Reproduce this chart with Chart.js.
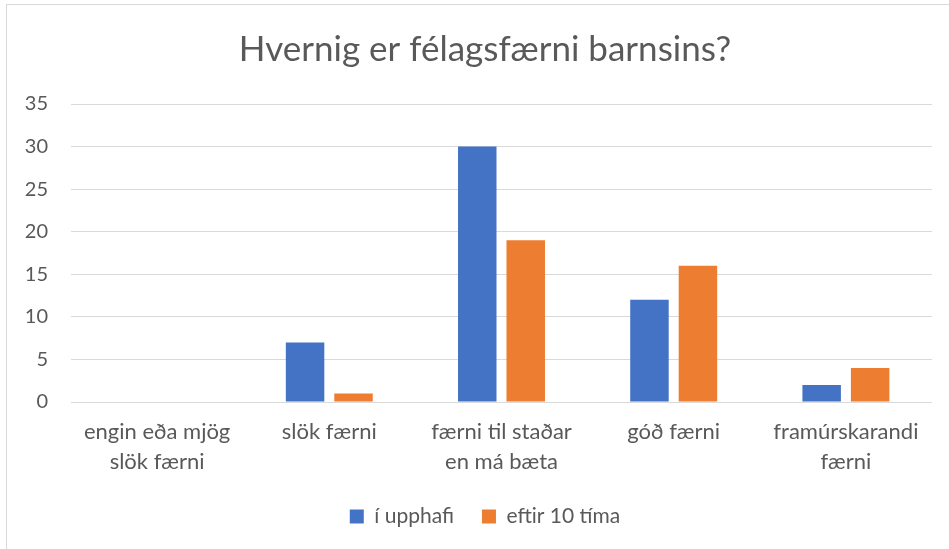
<!DOCTYPE html>
<html lang="is">
<head>
  <meta charset="UTF-8" />
  <title>Hvernig er félagsfærni barnsins?</title>
  <script src="https://cdn.jsdelivr.net/npm/chart.js"></script>
  <style>
    html, body { margin: 0; padding: 0; overflow: hidden; background: #fff; }
    #frame { position: absolute; left: 6px; top: 4px; width: 1000px; height: 600px; border: 1px solid #d9d9d9; }
    canvas { position: absolute; left: 0; top: 0; }
  </style>
</head>
<body>
  <div id="frame"></div>
  <canvas id="chart" width="949" height="549"></canvas>

  <script>
    const categories = [
      ['engin eða mjög', 'slök færni'],
      ['slök færni'],
      ['færni til staðar', 'en má bæta'],
      ['góð færni'],
      ['framúrskarandi', 'færni']
    ];
    const upphafi = [0, 7, 30, 12, 2];
    const eftir10 = [0, 1, 19, 16, 4];
    const yMax = 35;
    const yStep = 5;

    const textColor = '#595959';
    const gridColor = '#d9d9d9';
    const fontFamily = 'Lato, "Open Sans", sans-serif';

    // original frame is wider than the window, so title and legend sit a bit right of centre
    const shiftBoxes = {
      id: 'shiftBoxes',
      afterLayout(chart) {
        chart.titleBlock.left += 38;
        chart.legend.left += 38;
      }
    };

    new Chart(document.getElementById('chart'), {
      type: 'bar',
      data: {
        labels: categories,
        datasets: [
          { label: 'í upphafi', data: upphafi, backgroundColor: '#4472C4' },
          { label: 'eftir 10 tíma', data: eftir10, backgroundColor: '#ED7D31' }
        ]
      },
      plugins: [shiftBoxes],
      options: {
        responsive: false,
        animation: false,
        devicePixelRatio: 1,
        layout: { padding: { left: 0, right: 17, top: 0, bottom: 12 } },
        datasets: { bar: { categoryPercentage: 0.563, barPercentage: 0.794 } },
        scales: {
          x: {
            grid: { display: false },
            border: { display: false },
            ticks: {
              color: textColor,
              font: { family: fontFamily, size: 22, lineHeight: 1.364 },
              padding: 7,
              maxRotation: 0
            },
            afterFit: s => { s.height = 76; }
          },
          y: {
            min: 0,
            max: yMax,
            ticks: {
              stepSize: yStep,
              color: textColor,
              font: { family: fontFamily, size: 20 },
              padding: 23
            },
            grid: { color: gridColor, drawTicks: false },
            border: { display: false },
            afterFit: s => { s.width = 71; }
          }
        },
        plugins: {
          title: {
            display: true,
            text: 'Hvernig er félagsfærni barnsins?',
            color: textColor,
            font: { family: fontFamily, size: 35, weight: 'normal', lineHeight: 1.2 },
            padding: { top: 29, bottom: 33 }
          },
          legend: {
            position: 'bottom',
            labels: {
              color: textColor,
              font: { family: fontFamily, size: 21 },
              boxWidth: 14,
              boxHeight: 14,
              padding: 28
            }
          },
          tooltip: { enabled: false }
        }
      }
    });
  </script>
</body>
</html>
